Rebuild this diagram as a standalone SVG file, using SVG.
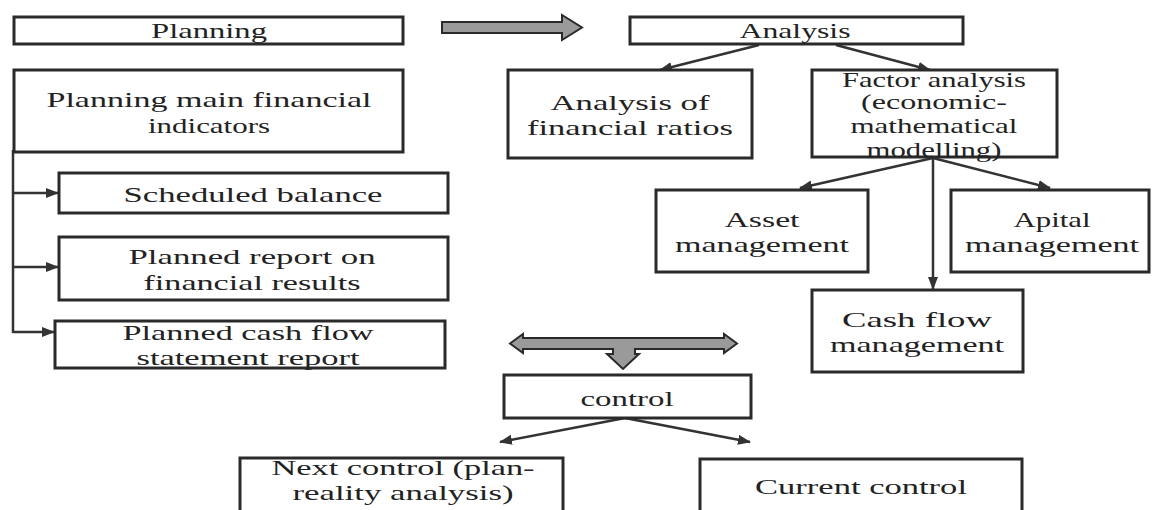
<svg xmlns="http://www.w3.org/2000/svg" width="1152" height="510" viewBox="0 0 1152 510">
<style>
.box{fill:#fff;stroke:#2a2a2a;stroke-width:3}
.t{font-family:"Liberation Serif","Times New Roman",serif;font-size:21px;fill:#222;text-anchor:middle;dominant-baseline:central}
.c{fill:none;stroke:#333;stroke-width:2.5}
.blk{fill:#9a9a9a;stroke:#2a2a2a;stroke-width:2;stroke-linejoin:miter}
</style>
<defs>
<marker id="ah" markerUnits="userSpaceOnUse" markerWidth="14" markerHeight="12" refX="12" refY="5" orient="auto">
<path d="M0,0 L13,5 L0,10 Z" fill="#333"/>
</marker>
</defs>
<rect width="1152" height="510" fill="#fff"/>

<g id="connectors">
<path class="blk" d="M442,22 L562,22 L562,15 L582,27.5 L562,40 L562,33 L442,33 Z"/>
<path class="blk" d="M510,343.5 L523,334 L523,338 L724,338 L724,334 L737,343.5 L724,353 L724,349 L635,349 L635,354 L639,354 L623,369 L607,354 L613,354 L613,349 L523,349 L523,353 Z"/>
<line class="c" x1="759" y1="45" x2="660" y2="70" marker-end="url(#ah)"/>
<line class="c" x1="836" y1="45" x2="930" y2="70" marker-end="url(#ah)"/>
<line class="c" x1="933" y1="158" x2="800" y2="188" marker-end="url(#ah)"/>
<line class="c" x1="933" y1="158" x2="1050" y2="188" marker-end="url(#ah)"/>
<line class="c" x1="933" y1="158" x2="933" y2="289" stroke-width="3" marker-end="url(#ah)"/>
<line class="c" x1="625" y1="418" x2="500" y2="442" marker-end="url(#ah)"/>
<line class="c" x1="625" y1="418" x2="750" y2="442" marker-end="url(#ah)"/>
<path class="c" d="M13,150 L13,333" stroke-width="3.5" stroke="#111"/>
<line class="c" x1="13" y1="193" x2="58" y2="193" marker-end="url(#ah)"/>
<line class="c" x1="13" y1="267" x2="58" y2="267" marker-end="url(#ah)"/>
<line class="c" x1="13" y1="332" x2="54" y2="332" marker-end="url(#ah)"/>
</g>

<g id="planning">
<rect class="box" x="14" y="17" width="389" height="27"/>
<text class="t" x="209" y="31" textLength="116" lengthAdjust="spacingAndGlyphs">Planning</text>
</g>
<g id="analysis">
<rect class="box" x="630" y="17" width="333" height="27"/>
<text class="t" x="795" y="31" textLength="111" lengthAdjust="spacingAndGlyphs">Analysis</text>
</g>
<g id="planning-main">
<rect class="box" x="14" y="70" width="389" height="82"/>
<text class="t" x="209" y="100" textLength="325" lengthAdjust="spacingAndGlyphs">Planning main financial</text>
<text class="t" x="209" y="126" textLength="122" lengthAdjust="spacingAndGlyphs">indicators</text>
</g>
<g id="ratios">
<rect class="box" x="508" y="70" width="244" height="88"/>
<text class="t" x="630" y="103" textLength="159" lengthAdjust="spacingAndGlyphs">Analysis of</text>
<text class="t" x="630" y="128" textLength="206" lengthAdjust="spacingAndGlyphs">financial ratios</text>
</g>
<g id="factor">
<rect class="box" x="812" y="70" width="245" height="87"/>
<text class="t" x="934" y="80" textLength="184" lengthAdjust="spacingAndGlyphs">Factor analysis</text>
<text class="t" x="934" y="102" textLength="146" lengthAdjust="spacingAndGlyphs">(economic-</text>
<text class="t" x="934" y="126" textLength="167" lengthAdjust="spacingAndGlyphs">mathematical</text>
<text class="t" x="934" y="150" textLength="135" lengthAdjust="spacingAndGlyphs">modelling)</text>
</g>
<g id="scheduled">
<rect class="box" x="59" y="173" width="389" height="40"/>
<text class="t" x="253" y="195" textLength="259" lengthAdjust="spacingAndGlyphs">Scheduled balance</text>
</g>
<g id="planned-report">
<rect class="box" x="59" y="237" width="389" height="63"/>
<text class="t" x="252" y="257" textLength="247" lengthAdjust="spacingAndGlyphs">Planned report on</text>
<text class="t" x="252" y="283" textLength="217" lengthAdjust="spacingAndGlyphs">financial results</text>
</g>
<g id="planned-cash">
<rect class="box" x="55" y="321" width="390" height="47"/>
<text class="t" x="248" y="333" textLength="251" lengthAdjust="spacingAndGlyphs">Planned cash flow</text>
<text class="t" x="248" y="358" textLength="223" lengthAdjust="spacingAndGlyphs">statement report</text>
</g>
<g id="asset">
<rect class="box" x="656" y="190" width="212" height="82"/>
<text class="t" x="762" y="220" textLength="75" lengthAdjust="spacingAndGlyphs">Asset</text>
<text class="t" x="762" y="245" textLength="174" lengthAdjust="spacingAndGlyphs">management</text>
</g>
<g id="apital">
<rect class="box" x="951" y="190" width="198" height="82"/>
<text class="t" x="1052" y="220" textLength="77" lengthAdjust="spacingAndGlyphs">Apital</text>
<text class="t" x="1052" y="245" textLength="174" lengthAdjust="spacingAndGlyphs">management</text>
</g>
<g id="cashflow">
<rect class="box" x="812" y="290" width="211" height="82"/>
<text class="t" x="917" y="320" textLength="150" lengthAdjust="spacingAndGlyphs">Cash flow</text>
<text class="t" x="917" y="345" textLength="174" lengthAdjust="spacingAndGlyphs">management</text>
</g>
<g id="control">
<rect class="box" x="504" y="375" width="247" height="43"/>
<text class="t" x="627" y="399" textLength="93" lengthAdjust="spacingAndGlyphs">control</text>
</g>
<g id="next-control">
<rect class="box" x="240" y="458" width="323" height="70"/>
<text class="t" x="403" y="468" textLength="263" lengthAdjust="spacingAndGlyphs">Next control (plan-</text>
<text class="t" x="403" y="493" textLength="221" lengthAdjust="spacingAndGlyphs">reality analysis)</text>
</g>
<g id="current-control">
<rect class="box" x="700" y="459" width="322" height="70"/>
<text class="t" x="861" y="487" textLength="212" lengthAdjust="spacingAndGlyphs">Current control</text>
</g>
</svg>
